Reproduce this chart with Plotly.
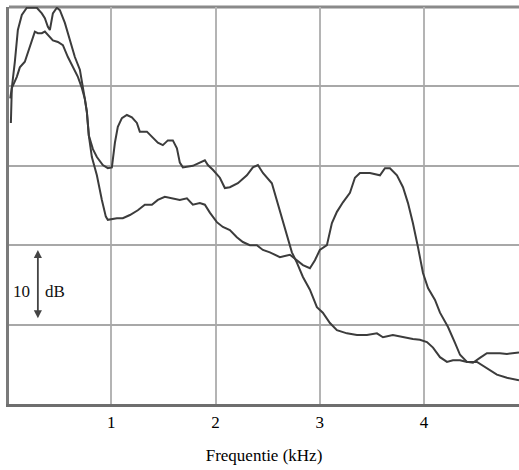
import plotly.graph_objects as go

# Curve 1 (double peak at left, upper between 1 and 2.7 kHz, falls to low plateau)
freq_a = [0.036, 0.045, 0.074, 0.103, 0.141, 0.189, 0.285, 0.333, 0.362, 0.391, 0.41,
          0.439, 0.477, 0.506, 0.554, 0.602, 0.65, 0.698, 0.727, 0.746, 0.765, 0.784,
          0.823, 0.861, 0.918, 0.966, 1.005, 1.034, 1.062, 1.101, 1.149, 1.197, 1.245,
          1.273, 1.341, 1.389, 1.446, 1.494, 1.542, 1.59, 1.629, 1.657, 1.686, 1.782,
          1.849, 1.897, 1.926, 1.974, 2.041, 2.089, 2.137, 2.214, 2.3, 2.358, 2.406,
          2.454, 2.54, 2.588, 2.636, 2.684, 2.732, 2.78, 2.838, 2.905, 2.972, 3.029,
          3.097, 3.164, 3.26, 3.356, 3.452, 3.548, 3.606, 3.701, 3.798, 3.893, 3.96,
          4.028, 4.086, 4.153, 4.22, 4.277, 4.345, 4.412, 4.508, 4.603, 4.699, 4.795, 4.911]
level_a = [35.4, 39.8, 43.1, 47.1, 49.0, 49.9, 49.9, 49.2, 48.6, 47.5, 47.1,
           49.2, 49.9, 49.6, 48.0, 45.8, 43.7, 42.1, 39.5, 38.4, 36.8, 33.8,
           32.1, 31.1, 30.1, 29.7, 29.8, 32.9, 34.9, 36.0, 36.4, 36.1, 35.4,
           34.3, 34.3, 33.6, 32.9, 32.6, 33.2, 33.2, 32.2, 30.4, 29.8, 30.0,
           30.4, 30.7, 30.1, 29.5, 28.5, 27.2, 27.3, 27.8, 28.8, 29.8, 30.1,
           29.1, 27.8, 25.7, 23.6, 21.3, 19.1, 17.8, 16.0, 14.4, 12.2, 11.5,
           10.2, 9.3, 8.9, 8.7, 8.7, 8.9, 8.4, 8.7, 8.4, 8.2, 8.1,
           7.8, 7.1, 5.9, 5.3, 5.5, 5.5, 5.3, 5.3, 4.5, 3.7, 3.3, 3.0]

# Curve 2 (smoother hump at left, lower between 1 and 2.7 kHz, peak near 3.7 kHz)
freq_b = [0.03, 0.045, 0.093, 0.122, 0.17, 0.199, 0.237, 0.266, 0.295, 0.333, 0.362,
          0.41, 0.439, 0.487, 0.535, 0.583, 0.631, 0.679, 0.717, 0.746, 0.765, 0.784,
          0.813, 0.861, 0.909, 0.947, 0.966, 1.053, 1.11, 1.178, 1.254, 1.321, 1.389,
          1.446, 1.513, 1.59, 1.657, 1.725, 1.782, 1.849, 1.897, 1.945, 2.012, 2.07,
          2.137, 2.204, 2.262, 2.329, 2.396, 2.454, 2.521, 2.617, 2.713, 2.78, 2.838,
          2.905, 2.953, 3.0, 3.068, 3.116, 3.164, 3.222, 3.289, 3.337, 3.385, 3.481,
          3.577, 3.625, 3.673, 3.74, 3.798, 3.846, 3.893, 3.941, 3.99, 4.038, 4.105,
          4.153, 4.23, 4.297, 4.345, 4.412, 4.469, 4.536, 4.603, 4.661, 4.728, 4.795,
          4.853, 4.911]
level_b = [38.5, 39.8, 41.2, 42.4, 43.1, 44.2, 45.8, 46.9, 46.7, 46.7, 46.9,
           46.2, 45.8, 45.6, 45.2, 43.7, 42.4, 41.2, 39.8, 38.4, 36.8, 33.8,
           31.1, 28.8, 25.7, 23.6, 23.2, 23.4, 23.4, 23.8, 24.4, 25.1, 25.1,
           25.7, 26.1, 25.9, 25.7, 25.9, 25.1, 25.3, 25.1, 24.1, 22.9, 22.3,
           21.9, 21.0, 20.4, 20.0, 20.0, 19.4, 19.1, 18.5, 18.8, 18.1, 17.5,
           17.1, 18.1, 19.4, 20.0, 22.8, 24.2, 25.4, 26.6, 28.5, 29.1, 29.1,
           28.8, 29.7, 29.7, 28.8, 27.3, 25.3, 22.8, 19.8, 16.5, 14.6, 13.1,
           11.5, 9.7, 7.7, 6.2, 5.3, 5.2, 5.8, 6.4, 6.4, 6.4, 6.3,
           6.4, 6.5]

x_ticks = [1, 2, 3, 4]
x_tick_labels = ["1", "2", "3", "4"]
y_grid = [0, 10, 20, 30, 40, 50]
x_title = "Frequentie (kHz)"
scale_label_num = "10"
scale_label_unit = "dB"

line_color = "#3c3c3c"
serif = "Liberation Serif, Times New Roman, serif"

fig = go.Figure()
fig.add_trace(go.Scatter(x=freq_a, y=level_a, mode="lines",
                         line=dict(color=line_color, width=2), showlegend=False))
fig.add_trace(go.Scatter(x=freq_b, y=level_b, mode="lines",
                         line=dict(color=line_color, width=2), showlegend=False))

# top border
fig.add_shape(type="line", xref="paper", yref="paper", x0=0, x1=1, y0=1, y1=1,
              line=dict(color="#8a8a8a", width=3), layer="below")

# 10 dB scale arrow
fig.add_annotation(x=0.295, y=19.4, ax=0.295, ay=10.6, xref="x", yref="y",
                   axref="x", ayref="y", text="", showarrow=True,
                   arrowhead=2, arrowside="end+start", arrowsize=0.9,
                   arrowwidth=1.8, arrowcolor="#444444")
fig.add_annotation(x=0.24, y=14.2, xref="x", yref="y", text=scale_label_num,
                   showarrow=False, xanchor="right", yanchor="middle",
                   font=dict(family=serif, size=17, color="#111111"))
fig.add_annotation(x=0.34, y=14.2, xref="x", yref="y", text=scale_label_unit,
                   showarrow=False, xanchor="left", yanchor="middle",
                   font=dict(family=serif, size=17, color="#111111"))

fig.update_layout(
    width=519, height=470,
    margin=dict(l=9, r=0, t=7, b=66),
    paper_bgcolor="white", plot_bgcolor="white",
    showlegend=False,
)
fig.update_xaxes(
    range=[0.018, 4.911], tickvals=x_ticks, ticktext=x_tick_labels,
    showgrid=True, gridcolor="#b4b4b4", gridwidth=2,
    showline=True, linecolor="#6e6e6e", linewidth=3,
    zeroline=False, ticks="", ticklabelstandoff=1,
    tickfont=dict(family=serif, size=17, color="#000000"),
    title=dict(text=x_title, font=dict(family=serif, size=17, color="#000000"),
               standoff=18),
)
fig.update_yaxes(
    range=[0, 50], tickvals=y_grid, showticklabels=False,
    showgrid=True, gridcolor="#a8a8a8", gridwidth=2,
    showline=True, linecolor="#7a7a7a", linewidth=3,
    zeroline=False, ticks="",
)

fig.write_html(
    "out.html",
    config={"displayModeBar": False},
    post_script="document.body.style.margin='0';document.body.style.overflow='hidden';",
)
